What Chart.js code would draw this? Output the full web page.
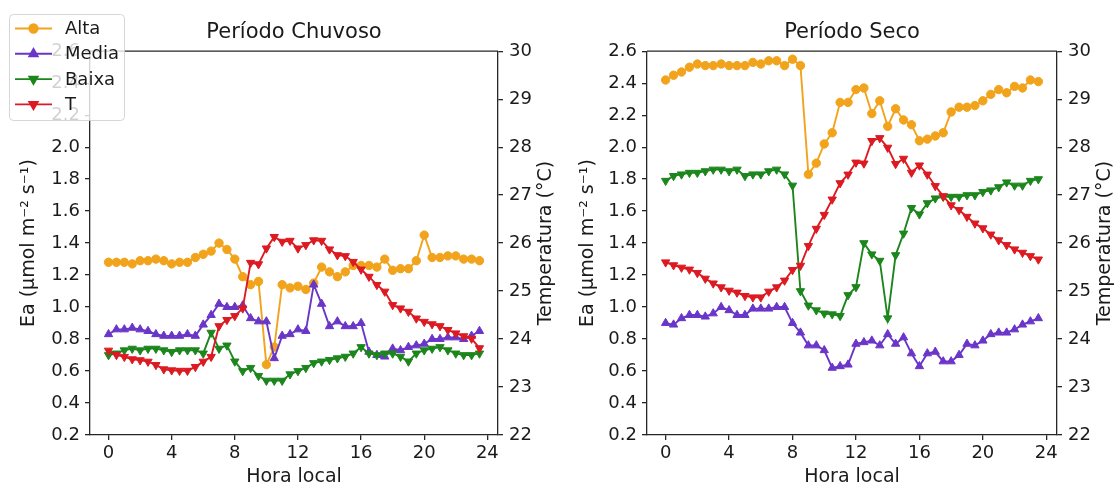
<!DOCTYPE html>
<html lang="pt">
<head>
<meta charset="utf-8">
<title>Ea e Temperatura - Período Chuvoso e Seco</title>
<script src="https://cdn.jsdelivr.net/npm/chart.js@4"></script>
<style>
  html, body { margin: 0; padding: 0; background: #fff; }
  .wrap { position: relative; width: 1118px; height: 488px; overflow: hidden; }
  .painel { position: absolute; top: 0; width: 559px; height: 488px; }
  #painel-chuvoso { left: 0; }
  #painel-seco { left: 559px; }
</style>
</head>
<body>
<div class="wrap">
  <div class="painel" id="painel-chuvoso"><canvas id="chartChuvoso" width="559" height="488"></canvas></div>
  <div class="painel" id="painel-seco"><canvas id="chartSeco" width="559" height="488"></canvas></div>
</div>
<script>
// --- Dados ---
const horas = [0, 0.5, 1, 1.5, 2, 2.5, 3, 3.5, 4, 4.5, 5, 5.5, 6, 6.5, 7, 7.5, 8, 8.5, 9, 9.5,
  10, 10.5, 11, 11.5, 12, 12.5, 13, 13.5, 14, 14.5, 15, 15.5, 16, 16.5, 17, 17.5, 18, 18.5, 19, 19.5,
  20, 20.5, 21, 21.5, 22, 22.5, 23, 23.5];

const xTicks = [0, 4, 8, 12, 16, 20, 24];
const ticksEa = [0.2, 0.4, 0.6, 0.8, 1.0, 1.2, 1.4, 1.6, 1.8, 2.0, 2.2, 2.4, 2.6];
const ticksTemp = [22, 23, 24, 25, 26, 27, 28, 29, 30];

// Período Chuvoso
const altaChuvoso = [1.28, 1.28, 1.28, 1.27, 1.29, 1.29, 1.30, 1.29, 1.27, 1.28,
  1.28, 1.31, 1.33, 1.35, 1.40, 1.36, 1.30, 1.19, 1.14, 1.16,
  0.64, 0.75, 1.14, 1.12, 1.13, 1.11, 1.15, 1.25, 1.22, 1.19,
  1.22, 1.26, 1.26, 1.26, 1.25, 1.30, 1.23, 1.24, 1.24, 1.29,
  1.45, 1.31, 1.31, 1.32, 1.32, 1.30, 1.30, 1.29];
const mediaChuvoso = [0.83, 0.86, 0.86, 0.87, 0.86, 0.85, 0.83, 0.82, 0.82, 0.82,
  0.83, 0.82, 0.89, 0.95, 1.02, 1.00, 1.00, 1.01, 0.93, 0.91,
  0.91, 0.68, 0.82, 0.83, 0.86, 0.85, 1.14, 1.02, 0.88, 0.91,
  0.88, 0.88, 0.90, 0.72, 0.70, 0.69, 0.74, 0.73, 0.75, 0.76,
  0.77, 0.80, 0.80, 0.81, 0.81, 0.80, 0.82, 0.85];
const baixaChuvoso = [0.70, 0.71, 0.73, 0.74, 0.73, 0.74, 0.74, 0.73, 0.72, 0.73,
  0.73, 0.73, 0.71, 0.84, 0.74, 0.76, 0.66, 0.60, 0.62, 0.57,
  0.54, 0.54, 0.54, 0.58, 0.60, 0.62, 0.65, 0.66, 0.67, 0.68,
  0.69, 0.71, 0.75, 0.71, 0.70, 0.71, 0.71, 0.69, 0.66, 0.71,
  0.73, 0.74, 0.75, 0.73, 0.71, 0.70, 0.70, 0.71];
const tChuvoso = [23.76, 23.67, 23.63, 23.58, 23.56, 23.53, 23.46, 23.37, 23.35, 23.34,
  23.34, 23.42, 23.53, 23.63, 24.27, 24.40, 24.48, 24.64, 25.59, 25.56,
  25.89, 26.13, 26.03, 26.05, 25.89, 25.96, 26.06, 26.05, 25.87, 25.75,
  25.73, 25.61, 25.45, 25.30, 25.13, 24.99, 24.71, 24.64, 24.57, 24.43,
  24.36, 24.31, 24.27, 24.19, 24.12, 24.06, 24.01, 23.81];

// Período Seco
const altaSeco = [2.42, 2.45, 2.47, 2.50, 2.52, 2.51, 2.51, 2.52, 2.51, 2.51,
  2.51, 2.53, 2.52, 2.54, 2.54, 2.51, 2.55, 2.51, 1.83, 1.90,
  2.02, 2.09, 2.28, 2.28, 2.36, 2.37, 2.21, 2.29, 2.13, 2.24,
  2.17, 2.14, 2.04, 2.05, 2.07, 2.09, 2.22, 2.25, 2.25, 2.26,
  2.29, 2.33, 2.36, 2.34, 2.38, 2.37, 2.42, 2.41];
const mediaSeco = [0.90, 0.89, 0.93, 0.95, 0.95, 0.94, 0.96, 1.00, 0.98, 0.95,
  0.95, 0.99, 0.99, 0.99, 1.00, 1.00, 0.90, 0.84, 0.76, 0.76,
  0.73, 0.62, 0.63, 0.64, 0.77, 0.78, 0.79, 0.76, 0.83, 0.77,
  0.81, 0.71, 0.63, 0.71, 0.72, 0.66, 0.66, 0.70, 0.77, 0.76,
  0.79, 0.83, 0.84, 0.84, 0.86, 0.89, 0.91, 0.93];
const baixaSeco = [1.79, 1.82, 1.83, 1.84, 1.84, 1.85, 1.86, 1.86, 1.85, 1.86,
  1.82, 1.83, 1.83, 1.85, 1.86, 1.83, 1.76, 1.10, 1.01, 0.98,
  0.96, 0.955, 0.945, 1.075, 1.125, 1.40, 1.33, 1.29, 0.93, 1.325,
  1.46, 1.62, 1.58, 1.65, 1.68, 1.69, 1.69, 1.69, 1.70, 1.70,
  1.72, 1.73, 1.75, 1.78, 1.76, 1.76, 1.79, 1.80];
const tSeco = [25.60, 25.54, 25.49, 25.45, 25.38, 25.26, 25.16, 25.08, 25.01, 24.97,
  24.90, 24.87, 24.87, 24.99, 25.08, 25.22, 25.44, 25.53, 25.94, 26.30,
  26.59, 26.91, 27.25, 27.43, 27.68, 27.66, 28.13, 28.19, 27.99, 27.65,
  27.76, 27.47, 27.62, 27.43, 27.19, 26.98, 26.79, 26.69, 26.55, 26.41,
  26.31, 26.18, 26.06, 25.96, 25.87, 25.80, 25.73, 25.66];

// --- Estilo ---
const FONTE = 'DejaVu Sans';
const COR_TEXTO = '#1a1a1a';
const COR_EIXO = '#262626';
const cores = { alta: '#f2a31c', media: '#6a36c8', baixa: '#1c861c', t: '#dc1a22' };

function montarPontos(valores) {
  return horas.map((h, i) => ({ x: h, y: valores[i] }));
}

function serie(label, valores, cor, eixo, ordem, estilo, rotacao, raio) {
  return {
    label: label,
    data: montarPontos(valores),
    yAxisID: eixo,
    order: ordem,
    borderColor: cor,
    backgroundColor: cor,
    borderWidth: 1.9,
    pointStyle: estilo,
    pointRotation: rotacao,
    pointRadius: raio,
    pointHoverRadius: raio,
    pointBorderWidth: 1,
    pointBackgroundColor: cor,
    pointBorderColor: cor,
    tension: 0,
    fill: false
  };
}

// moldura superior (spine de cima)
const molduraPlugin = {
  id: 'moldura',
  afterDatasetsDraw(chart) {
    const { ctx, chartArea } = chart;
    ctx.save();
    ctx.strokeStyle = COR_EIXO;
    ctx.lineWidth = 1.3;
    ctx.beginPath();
    ctx.moveTo(chartArea.left, chartArea.top);
    ctx.lineTo(chartArea.right, chartArea.top);
    ctx.stroke();
    ctx.restore();
  }
};

// título do eixo da direita, lido de baixo para cima como no matplotlib
const rotuloDireitoPlugin = {
  id: 'rotuloDireito',
  afterDraw(chart) {
    const { ctx, chartArea } = chart;
    ctx.save();
    ctx.translate(chart.width - 13, (chartArea.top + chartArea.bottom) / 2);
    ctx.rotate(-Math.PI / 2);
    ctx.font = '19px "' + FONTE + '"';
    ctx.fillStyle = COR_TEXTO;
    ctx.textAlign = 'center';
    ctx.textBaseline = 'middle';
    ctx.fillText('Temperatura (°C)', 0, 0);
    ctx.restore();
  }
};

// legenda no canto superior esquerdo, por cima dos rótulos
const legendaPlugin = {
  id: 'legendaFixa',
  afterDraw(chart) {
    const ctx = chart.ctx;
    const x0 = 9.5, y0 = 14.5, w = 115, h = 106, r = 4;
    ctx.save();
    ctx.beginPath();
    ctx.moveTo(x0 + r, y0);
    ctx.lineTo(x0 + w - r, y0);
    ctx.arcTo(x0 + w, y0, x0 + w, y0 + r, r);
    ctx.lineTo(x0 + w, y0 + h - r);
    ctx.arcTo(x0 + w, y0 + h, x0 + w - r, y0 + h, r);
    ctx.lineTo(x0 + r, y0 + h);
    ctx.arcTo(x0, y0 + h, x0, y0 + h - r, r);
    ctx.lineTo(x0, y0 + r);
    ctx.arcTo(x0, y0, x0 + r, y0, r);
    ctx.closePath();
    ctx.fillStyle = 'rgba(255,255,255,0.8)';
    ctx.fill();
    ctx.strokeStyle = 'rgba(204,204,204,0.8)';
    ctx.lineWidth = 1;
    ctx.stroke();

    ctx.font = '18px "' + FONTE + '"';
    ctx.textAlign = 'left';
    ctx.textBaseline = 'middle';
    chart.data.datasets.forEach((ds, i) => {
      const y = 28.5 + i * 25.3;
      ctx.strokeStyle = ds.borderColor;
      ctx.lineWidth = ds.borderWidth;
      ctx.beginPath();
      ctx.moveTo(15, y);
      ctx.lineTo(52, y);
      ctx.stroke();
      ctx.fillStyle = ds.pointBackgroundColor;
      Chart.helpers.drawPoint(ctx, {
        pointStyle: ds.pointStyle,
        rotation: ds.pointRotation,
        radius: ds.pointRadius,
        borderWidth: 1
      }, 33.5, y);
      ctx.fillStyle = COR_TEXTO;
      ctx.fillText(ds.label, 65, y + 1);
    });
    ctx.restore();
  }
};

function criarGrafico(canvasId, titulo, alta, media, baixa, temp, larguraEsq, comLegenda) {
  const plugins = [molduraPlugin, rotuloDireitoPlugin];
  if (comLegenda) plugins.push(legendaPlugin);

  const fonteTick = { family: FONTE, size: 18 };
  const gradeTicks = { display: true, drawOnChartArea: false, drawTicks: true, tickLength: 5, color: COR_EIXO, lineWidth: 1.3 };
  const borda = { display: true, color: COR_EIXO, width: 1.3 };

  return new Chart(document.getElementById(canvasId), {
    type: 'line',
    data: {
      datasets: [
        serie('Alta', alta, cores.alta, 'y', 3, 'circle', 0, 4.2),
        serie('Media', media, cores.media, 'y', 2, 'triangle', 0, 4.8),
        serie('Baixa', baixa, cores.baixa, 'y', 1, 'triangle', 180, 4.8),
        serie('T', temp, cores.t, 'y1', 0, 'triangle', 180, 4.8)
      ]
    },
    options: {
      responsive: false,
      animation: false,
      events: [],
      layout: { padding: 0 },
      plugins: {
        legend: { display: false },
        tooltip: { enabled: false },
        title: {
          display: true,
          text: titulo,
          fullSize: false,
          color: COR_TEXTO,
          font: { family: FONTE, size: 21, weight: 'normal' },
          padding: { top: 20, bottom: 6 }
        }
      },
      scales: {
        x: {
          type: 'linear',
          min: -1.175,
          max: 24.675,
          afterBuildTicks: s => { s.ticks = xTicks.map(v => ({ value: v })); },
          afterFit: s => { s.height = 53; },
          ticks: { color: COR_TEXTO, font: fonteTick, padding: 3, maxRotation: 0 },
          grid: gradeTicks,
          border: borda,
          title: {
            display: true,
            text: 'Hora local',
            color: COR_TEXTO,
            font: { family: FONTE, size: 19 },
            padding: { top: 0, bottom: 0 }
          }
        },
        y: {
          type: 'linear',
          position: 'left',
          min: 0.2,
          max: 2.6,
          afterBuildTicks: s => { s.ticks = ticksEa.map(v => ({ value: v })); },
          afterFit: s => { s.width = larguraEsq; },
          ticks: { color: COR_TEXTO, font: fonteTick, padding: 5, callback: v => Number(v).toFixed(1) },
          grid: gradeTicks,
          border: borda,
          title: {
            display: true,
            text: 'Ea (μmol m⁻² s⁻¹)',
            color: COR_TEXTO,
            font: { family: FONTE, size: 19 },
            padding: { top: 18, bottom: 0 }
          }
        },
        y1: {
          type: 'linear',
          position: 'right',
          min: 22,
          max: 30,
          afterBuildTicks: s => { s.ticks = ticksTemp.map(v => ({ value: v })); },
          afterFit: s => { s.width = 61; },
          ticks: { color: COR_TEXTO, font: fonteTick, padding: 6, callback: v => String(v) },
          grid: gradeTicks,
          border: borda
        }
      }
    },
    plugins: plugins
  });
}

criarGrafico('chartChuvoso', 'Período Chuvoso', altaChuvoso, mediaChuvoso, baixaChuvoso, tChuvoso, 90, true);
criarGrafico('chartSeco', 'Período Seco', altaSeco, mediaSeco, baixaSeco, tSeco, 88, false);
</script>
</body>
</html>
